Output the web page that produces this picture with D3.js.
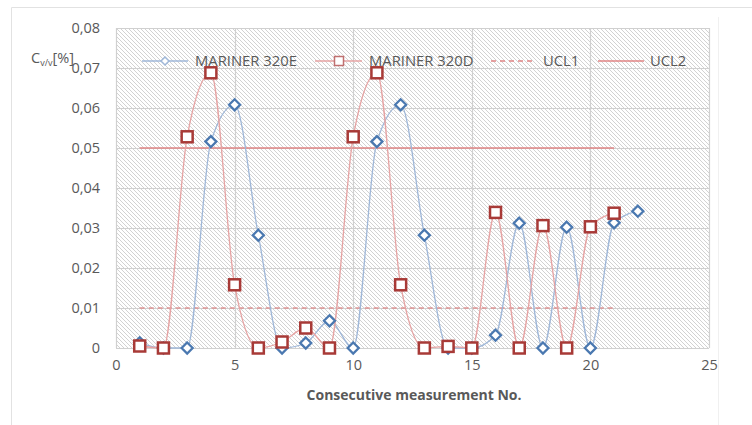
<!DOCTYPE html>
<html>
<head>
<meta charset="utf-8">
<script src="https://cdn.jsdelivr.net/npm/d3@7"></script>
<style>
  html, body { margin: 0; padding: 0; background: #fff; }
  svg { display: block; }
  text { font-family: "Open Sans", "Noto Sans", sans-serif; fill: #595959; }
</style>
</head>
<body>
<svg id="chart" width="752" height="425"></svg>
<script>
// ---- data ----
const measE = [1,2,3,4,5,6,7,8,9,10,11,12,13,14,15,16,17,18,19,20,21,22];
const mariner320E = [0.0013,0,0,0.0516,0.0608,0.0282,0,0.00125,0.0068,0,0.0516,0.0608,0.0282,0,0,0.0032,0.0312,0,0.0302,0,0.0313,0.0342];
const measD = [1,2,3,4,5,6,7,8,9,10,11,12,13,14,15,16,17,18,19,20,21];
const mariner320D = [0.0005,0,0.0528,0.0688,0.0158,0,0.0015,0.005,0,0.0528,0.0688,0.0158,0,0.0004,0,0.0339,0,0.0306,0,0.0303,0.0337];
const ucl1 = 0.01;
const ucl2 = 0.05;
const uclRange = [1, 21];
const xTicks = [0,5,10,15,20,25];
const yTicks = [0,0.01,0.02,0.03,0.04,0.05,0.06,0.07,0.08];
const legendLabels = ["MARINER 320E","MARINER 320D","UCL1","UCL2"];

// ---- layout ----
const svg = d3.select("#chart");
const x = d3.scaleLinear().domain([0,25]).range([116,709]);
const y = d3.scaleLinear().domain([0,0.08]).range([348,28]);

// outer frame
svg.append("path").attr("d","M11.5,425 L11.5,7.5 L752,7.5").attr("fill","none").attr("stroke","#e2e2e2");
svg.append("line").attr("x1",718.5).attr("x2",718.5).attr("y1",17).attr("y2",425).attr("stroke","#f0f0f0");

// hatch pattern
const defs = svg.append("defs");
const pat = defs.append("pattern").attr("id","hatch").attr("patternUnits","userSpaceOnUse")
  .attr("width",4).attr("height",4);
pat.append("rect").attr("width",4).attr("height",4).attr("fill","#fff");
pat.append("path").attr("d","M-1,-1 L5,5 M-1,3 L1,5 M3,-1 L5,1")
  .attr("stroke","#d2d2d2").attr("stroke-width",1);

svg.append("rect").attr("x",x(0)).attr("y",y(0.08)).attr("width",x(25)-x(0)).attr("height",y(0)-y(0.08))
  .attr("fill","url(#hatch)");

// gridlines
svg.append("g").selectAll("line").data(yTicks).join("line")
  .attr("x1",x(0)).attr("x2",x(25)).attr("y1",d=>Math.round(y(d))+0.5).attr("y2",d=>Math.round(y(d))+0.5)
  .attr("stroke","#d0d0d0").attr("stroke-width",1.2);
svg.append("g").selectAll("line").data(xTicks).join("line")
  .attr("y1",y(0)).attr("y2",y(0.08)).attr("x1",d=>Math.round(x(d))+0.5).attr("x2",d=>Math.round(x(d))+0.5)
  .attr("stroke","#d0d0d0").attr("stroke-width",1.2);

// axes tick labels
const fmt = d => d3.format(".2f")(d).replace(".",",");
const yAxis = d3.axisLeft(y).tickValues(yTicks).tickFormat(d => d===0 ? "0" : fmt(d)).tickSize(0).tickPadding(16);
const gy = svg.append("g").attr("transform",`translate(${x(0)},0)`).call(yAxis);
gy.select(".domain").remove();
gy.selectAll("text").attr("font-size",14.5).attr("fill","#595959").style("font-family","'Open Sans', sans-serif");

const xAxis = d3.axisBottom(x).tickValues(xTicks).tickFormat(d3.format("d")).tickSize(0).tickPadding(12);
const gx = svg.append("g").attr("transform",`translate(0,${y(0)})`).call(xAxis);
gx.select(".domain").remove();
gx.selectAll("text").attr("font-size",14.5).attr("fill","#595959").style("font-family","'Open Sans', sans-serif");

// axis titles
svg.append("text").attr("x",414).attr("y",400).attr("text-anchor","middle")
  .attr("font-size",14).attr("font-weight","bold").text("Consecutive measurement No.");
const yt = svg.append("text").attr("x",31).attr("y",63).attr("font-size",14.5);
yt.append("tspan").text("C");
yt.append("tspan").attr("font-size",9).attr("dy",3).text("v/v");
yt.append("tspan").attr("dy",-3).text("[%]");

// UCL lines
const redLine = "#e08585";
svg.append("line").attr("x1",x(uclRange[0])).attr("x2",x(uclRange[1])).attr("y1",y(ucl1)).attr("y2",y(ucl1))
  .attr("stroke",redLine).attr("stroke-width",1.5).attr("stroke-dasharray","5,4").attr("opacity",0.85);
svg.append("line").attr("x1",x(uclRange[0])).attr("x2",x(uclRange[1])).attr("y1",y(ucl2)).attr("y2",y(ucl2))
  .attr("stroke",redLine).attr("stroke-width",1.6);

// series lines
const blueLine = "#9fb7d8", pinkLine = "#e6a3a3";
const blueMark = "#4a78b0", redMark = "#a83a37";
const line = d3.line().x(d=>x(d[0])).y(d=>y(d[1])).curve(d3.curveMonotoneX);
const dataE = measE.map((m,i)=>[m, mariner320E[i]]);
const dataD = measD.map((m,i)=>[m, mariner320D[i]]);
svg.append("path").attr("d",line(dataE)).attr("fill","none").attr("stroke",blueLine).attr("stroke-width",1.3);
svg.append("path").attr("d",line(dataD)).attr("fill","none").attr("stroke",pinkLine).attr("stroke-width",1.3);

// markers
const diamond = (cx,cy,r) => `M${cx},${cy-r} L${cx+r},${cy} L${cx},${cy+r} L${cx-r},${cy} Z`;
svg.append("g").selectAll("path").data(dataE).join("path")
  .attr("d",d=>diamond(x(d[0]),y(d[1]),5.5)).attr("fill","#fff").attr("stroke",blueMark).attr("stroke-width",2.3);
svg.append("g").selectAll("rect").data(dataD).join("rect")
  .attr("x",d=>x(d[0])-5.5).attr("y",d=>y(d[1])-5.5).attr("width",11).attr("height",11)
  .attr("fill","#fff").attr("stroke",redMark).attr("stroke-width",2.5);

// legend
const ly = 61;
const lg = svg.append("g");
// item 1
lg.append("line").attr("x1",142).attr("x2",188).attr("y1",ly).attr("y2",ly).attr("stroke",blueLine).attr("stroke-width",1.3);
lg.append("path").attr("d",diamond(165,ly,4)).attr("fill","#fff").attr("stroke",blueLine).attr("stroke-width",1.5);
lg.append("text").attr("x",195).attr("y",ly+5).attr("font-size",14.8).text(legendLabels[0]);
// item 2
lg.append("line").attr("x1",315).attr("x2",362).attr("y1",ly).attr("y2",ly).attr("stroke",pinkLine).attr("stroke-width",1.3);
lg.append("rect").attr("x",334.5).attr("y",ly-4.5).attr("width",9).attr("height",9).attr("fill","#fff").attr("stroke","#c07070").attr("stroke-width",1.5);
lg.append("text").attr("x",369).attr("y",ly+5).attr("font-size",14.8).text(legendLabels[1]);
// item 3
lg.append("line").attr("x1",491).attr("x2",535).attr("y1",ly).attr("y2",ly).attr("stroke",redLine).attr("stroke-width",1.4).attr("stroke-dasharray","5,4");
lg.append("text").attr("x",543).attr("y",ly+5).attr("font-size",14.8).text(legendLabels[2]);
// item 4
lg.append("line").attr("x1",598).attr("x2",644).attr("y1",ly).attr("y2",ly).attr("stroke",redLine).attr("stroke-width",1.5);
lg.append("text").attr("x",650).attr("y",ly+5).attr("font-size",14.8).text(legendLabels[3]);
</script>
</body>
</html>
